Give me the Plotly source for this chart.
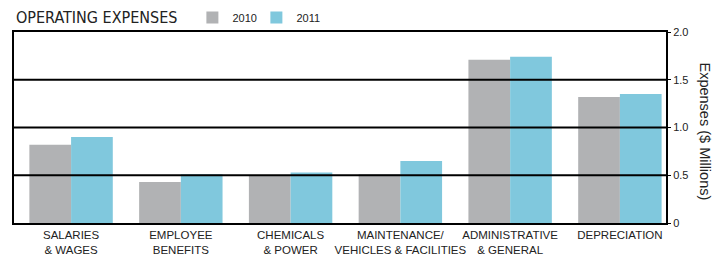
import plotly.graph_objects as go

categories = ["SALARIES<br>& WAGES", "EMPLOYEE<br>BENEFITS", "CHEMICALS<br>& POWER",
              "MAINTENANCE/<br>VEHICLES & FACILITIES", "ADMINISTRATIVE<br>& GENERAL", "DEPRECIATION"]
values_2010 = [0.82, 0.43, 0.50, 0.51, 1.71, 1.32]
values_2011 = [0.90, 0.51, 0.53, 0.65, 1.74, 1.35]
y_ticks = [0, 0.5, 1.0, 1.5, 2.0]
y_tick_labels = ["0", "0.5", "1.0", "1.5", "2.0"]

GRAY = "#b1b2b4"
BLUE = "#80c8dd"
FONT = "Liberation Sans, Arial, sans-serif"

fig = go.Figure()
fig.add_trace(go.Bar(name="2010", x=categories, y=values_2010, marker=dict(color=GRAY, line=dict(width=0))))
fig.add_trace(go.Bar(name="2011", x=categories, y=values_2011, marker=dict(color=BLUE, line=dict(width=0))))

# gridlines drawn over the bars
for v in y_ticks[1:-1]:
    fig.add_shape(type="line", xref="paper", yref="y", x0=0, x1=1, y0=v, y1=v,
                  line=dict(color="black", width=2), layer="above")

fig.update_layout(
    width=726, height=255,
    margin=dict(l=14, r=60, t=32, b=32, autoexpand=False),
    paper_bgcolor="white", plot_bgcolor="white",
    barmode="group", bargap=0.24, bargroupgap=0,
    font=dict(family=FONT, size=11, color="#222"),
    showlegend=True,
    legend=dict(orientation="h", xref="container", yref="container",
                x=0.265, xanchor="left", y=1 - 17.5 / 255, yanchor="middle",
                font=dict(size=11, color="#222"), bgcolor="rgba(0,0,0,0)",
                itemwidth=30, tracegroupgap=0, entrywidth=19, entrywidthmode="pixels"),
    xaxis=dict(range=[-0.52, 5.42], showline=True, linecolor="black", linewidth=2, mirror=True,
               showgrid=False, ticks="", tickangle=0, automargin=False,
               tickfont=dict(size=11.5, color="#222"), fixedrange=True),
    yaxis=dict(side="right", range=[0, 2.0], tickvals=y_ticks, ticktext=y_tick_labels,
               automargin=False,
               showline=True, linecolor="black", linewidth=2, mirror=True,
               showgrid=False, zeroline=False, ticks="outside", ticklen=3, tickwidth=1,
               tickcolor="black", tickfont=dict(size=11, color="#222")),
    annotations=[
        dict(text="OPERATING EXPENSES", xref="paper", yref="paper", x=0, y=1.0,
             xanchor="left", yanchor="bottom", yshift=3, showarrow=False,
             font=dict(family="Liberation Sans Narrow, DejaVu Sans Condensed, Arial Narrow, sans-serif",
                       size=16, color="#222")),
        dict(text="Expenses ($ Millions)", xref="paper", yref="paper", x=1.0, y=0.5,
             xanchor="left", yanchor="middle", xshift=29, yshift=-4, showarrow=False, textangle=90,
             font=dict(family=FONT, size=14.5, color="#222")),
    ],
)

fig.write_html("out.html", config={"displayModeBar": False},
               post_script="document.body.style.margin='0';document.body.style.overflow='hidden';")
